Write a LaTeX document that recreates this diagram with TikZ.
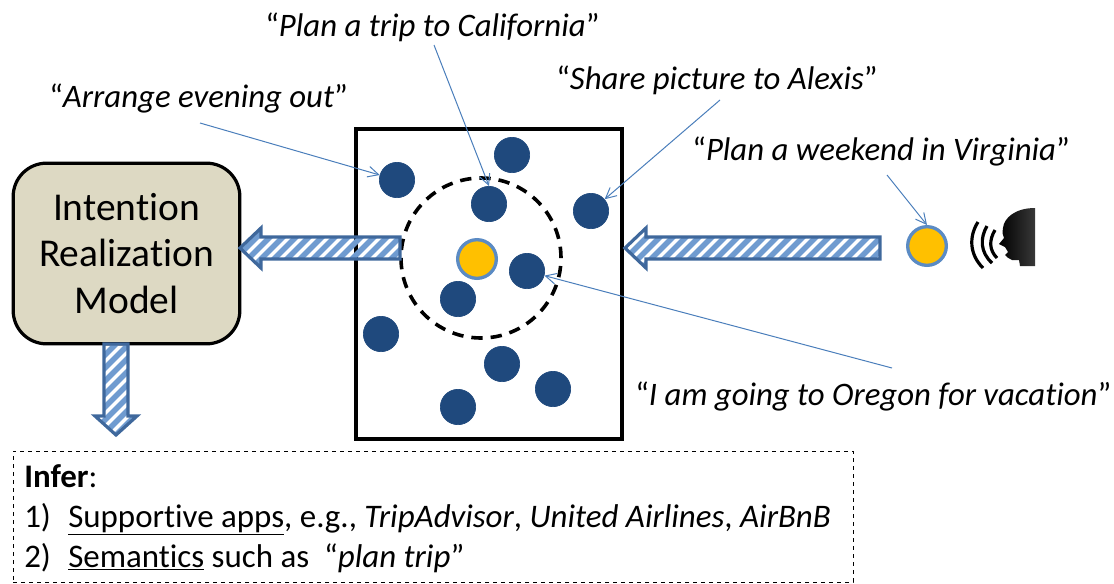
\documentclass[tikz,border=0pt]{standalone}
\usepackage{fontspec}
\setmainfont[Ligatures=NoCommon]{Carlito}
\usetikzlibrary{arrows.meta}
\definecolor{navy}{HTML}{1F497D}
\definecolor{gold}{HTML}{FFC000}
\definecolor{ring}{HTML}{5B8BC4}
\definecolor{edgeblue}{HTML}{3F689C}
\definecolor{stripe}{HTML}{6F9BD0}
\definecolor{tan}{HTML}{DDD9C3}
\definecolor{thin}{HTML}{4A7EBB}
\tikzset{
  dot/.style={circle,fill=navy,draw=navy,line width=.5pt,minimum size=26.5pt,inner sep=0pt},
  golddot/.style={circle,fill=gold,draw=ring,line width=2.5pt,minimum size=29pt,inner sep=0pt},
  quotetext/.style={font=\fontsize{24.6}{30}\selectfont,inner sep=0pt,anchor=west},
  infertext/.style={font=\fontsize{24.7}{30}\selectfont,inner sep=0pt,anchor=base west},
  callout/.style={draw=thin,line width=.75pt,-{Straight Barb[length=8pt,width=8pt,line width=.75pt]}},
  bigtext/.style={font=\fontsize{29.6}{36}\selectfont,align=center,text=black},
  stripeline/.style={stripe,line width=4.2pt},
  arrowedge/.style={draw=edgeblue,line width=2.4pt,line join=miter},
  soundwave/.style={black,line width=2.4pt}
}
\newcommand{\hatcharrow}[3]{%
  \begin{scope}
    \clip #1;
    \foreach \i in {0,13,...,520}{
      \draw[stripeline] (#2+\i-260,#3+260) -- (#2+\i,#3);
    }
  \end{scope}
  \path[arrowedge] #1;
}
\begin{document}
\begin{tikzpicture}[x=.75pt,y=-.75pt]
\useasboundingbox (0,0) rectangle (1114,583);
% main box and model box
\node[draw=black,line width=2.4pt,minimum width=199.5pt,minimum height=232.5pt,inner sep=0pt] (pool) at (489,284) {};
\node[draw=black,fill=tan,line width=2.4pt,rounded corners=25pt,minimum width=170pt,minimum height=135.5pt,inner sep=0pt,bigtext] (model) at (126.5,253.5) {Intention\\[-1pt]Realization\\[-1pt]Model};
\node[draw=black,dashed,line width=.6pt,minimum width=630pt,minimum height=98.2pt,inner sep=0pt] (infer) at (433,516.5) {};
% scope circle
\node[circle,draw=black,dash pattern=on 8.5pt off 6pt,line width=2.7pt,minimum size=120pt,inner sep=0pt] (scopec) at (481,258) {};
% dots
\node[dot] (d1) at (397,180) {};
\node[dot] (d2) at (512,155) {};
\node[dot] (d3) at (489,204) {};
\node[dot] (d4) at (591,211) {};
\node[dot] (d5) at (527,271) {};
\node[dot] (d6) at (458,299) {};
\node[dot] (d7) at (381,334) {};
\node[dot] (d8) at (502,364) {};
\node[dot] (d9) at (553,389) {};
\node[dot] (d10) at (458,407) {};
\node[golddot] (g1) at (477,259) {};
\node[golddot] (g2) at (927,246) {};
% block arrows
\hatcharrow{(400,237) -- (261,237) -- (261,228) -- (240,248) -- (261,268) -- (261,259) -- (400,259) -- cycle}{230}{225}
\hatcharrow{(880,237) -- (646,237) -- (646,228) -- (625,248) -- (646,268) -- (646,259) -- (880,259) -- cycle}{620}{225}
\hatcharrow{(104,344) -- (128,344) -- (128,416) -- (137,416) -- (116,435) -- (95,416) -- (104,416) -- cycle}{90}{344}
% quotes
\node[quotetext] (t1) at (265,27) {“\textit{Plan a trip to California}”};
\node[quotetext] (t2) at (556,80) {“\textit{Share picture to Alexis}”};
\node[quotetext] (t3) at (49,98) {“\textit{Arrange evening out}”};
\node[quotetext] (t4) at (692,151) {“\textit{Plan a weekend in Virginia}”};
\node[quotetext] (t5) at (635,396) {“\textit{I am going to Oregon for vacation}”};
% callouts
\coordinate (c1) at (434,45);
\coordinate (c2) at (720,100);
\coordinate (c3) at (200,123);
\coordinate (c4) at (887,175);
\coordinate (c5) at (892,368);
\draw[callout] (c1) -- (d3.north);
\draw[callout] (c2) -- (d4);
\draw[callout] (c3) -- (d1);
\draw[callout] (c4) -- (g2.north);
\draw[callout] (c5) -- (d5);
% speaker
\shade[left color=black,right color=black!78] (1035,208) .. controls (1015,208) and (1004,218) .. (1003,228) .. controls (1002,233) and (1003,236) .. (1004,238) -- (999,244) -- (1005,247) -- (1008,252) -- (1005,255) .. controls (1007,257) and (1009,259) .. (1012,260) -- (1019,260) -- (1020,266) -- (1035,266) -- cycle;
\draw[soundwave] (995,230) .. controls (989,240) and (989,250) .. (997,258);
\draw[soundwave] (987,226) .. controls (980,238) and (980,252) .. (992,263);
\draw[soundwave] (978,222) .. controls (969,236) and (969,254) .. (983,268);
% infer text
\node[infertext] (i1) at (24,487) {\textbf{Infer}:};
\node[infertext] (i2) at (24,527) {1)\hspace{13pt}\underline{Supportive apps}, e.g., \textit{TripAdvisor}, \textit{United Airlines}, \textit{AirBnB}};
\node[infertext] (i3) at (24,567) {2)\hspace{13pt}\underline{Semantics} such as~~“\textit{plan trip}”};
\end{tikzpicture}
\end{document}
